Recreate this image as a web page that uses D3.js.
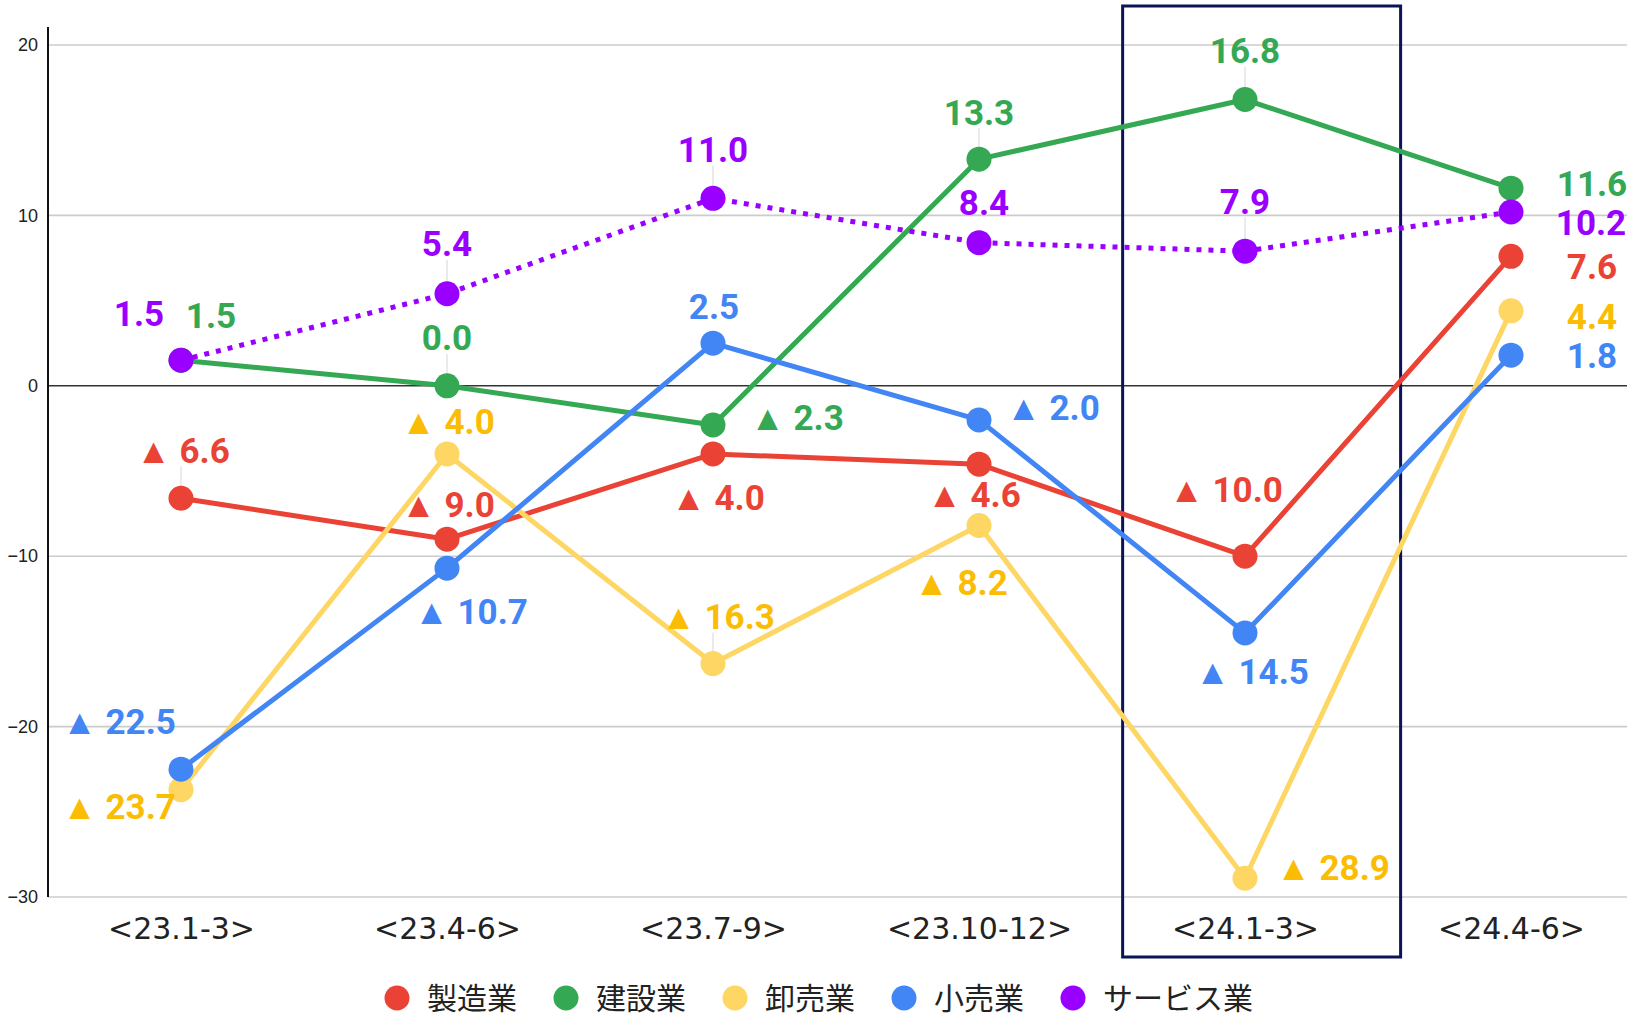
<!DOCTYPE html>
<html>
<head>
<meta charset="utf-8">
<script src="https://cdn.jsdelivr.net/npm/d3@7"></script>
<style>
  body { margin: 0; background: #fff; }
</style>
</head>
<body>
<div class="svg-wrap"></div>
<script>
const width = 1627;
const height = 1019;

// data
const quarters = ["<23.1-3>", "<23.4-6>", "<23.7-9>", "<23.10-12>", "<24.1-3>", "<24.4-6>"];
const seriesNames = ["製造業", "建設業", "卸売業", "小売業", "サービス業"];
const manufacturing = [-6.6, -9.0, -4.0, -4.6, -10.0, 7.6];
const construction = [1.5, 0.0, -2.3, 13.3, 16.8, 11.6];
const wholesale = [-23.7, -4.0, -16.3, -8.2, -28.9, 4.4];
const retail = [-22.5, -10.7, 2.5, -2.0, -14.5, 1.8];
const services = [1.5, 5.4, 11.0, 8.4, 7.9, 10.2];
const yTicks = [-30, -20, -10, 0, 10, 20];
const highlighted = "<24.1-3>";

// styles
const lineColors = ["#EA4335", "#34A853", "#FDD663", "#4285F4", "#9900FF"];
const labelColors = ["#EA4335", "#34A853", "#FBBC04", "#4285F4", "#9900FF"];

// label placement (offset of label centre from its point)
const labelOffsets = [
  [[2, -48], [1, -35], [5, 43], [-5, 30], [-19, -67], [81, 10]],
  [[30, -45], [0, -48], [84, -8], [0, -47], [0, -49], [81, -5]],
  [[-62, 17], [1, -33], [5, -47], [-18, 57], [88, -11], [81, 6]],
  [[-62, -48], [24, 43], [1, -37], [74, -12], [7, 39], [81, 0]],
  [[-42, -47], [0, -50], [0, -49], [5, -40], [0, -50], [80, 10]]
];

const allSeries = [manufacturing, construction, wholesale, retail, services];

let svg = d3.select(".svg-wrap")
  .append("svg")
  .attr("width", width)
  .attr("height", height)
  .style("background-color", "white");

let scaleX = d3.scalePoint().domain(quarters).range([48, 1644]).padding(0.5);
let scaleY = d3.scaleLinear().domain([-30, 20]).range([897, 45]);

// grid
svg.append("g")
  .selectAll("line")
  .data(yTicks)
  .enter()
  .append("line")
  .attr("x1", 48)
  .attr("x2", width)
  .attr("y1", d => scaleY(d))
  .attr("y2", d => scaleY(d))
  .style("stroke", d => d === 0 ? "#333" : "#ccc")
  .style("stroke-width", 1.6);

// y axis
let yAxis = d3.axisLeft(scaleY).tickValues(yTicks).tickSize(0).tickPadding(10);
let gy = svg.append("g")
  .attr("id", "y-axis")
  .attr("transform", "translate(48,0)")
  .call(yAxis);
gy.select(".domain").remove();
gy.selectAll("text")
  .style("font-family", "Arial, 'Liberation Sans', sans-serif")
  .style("font-size", "18px")
  .style("fill", "#222");
svg.append("line")
  .attr("x1", 48).attr("x2", 48)
  .attr("y1", 27).attr("y2", 897)
  .style("stroke", "#111")
  .style("stroke-width", 2);

// x axis
let xAxis = d3.axisBottom(scaleX).tickSize(0).tickPadding(21);
let gx = svg.append("g")
  .attr("id", "x-axis")
  .attr("transform", "translate(0,897)")
  .call(xAxis);
gx.select(".domain").remove();
gx.selectAll("text")
  .style("font-family", "'DejaVu Sans', sans-serif")
  .style("font-size", "30px")
  .style("fill", "#222");

// highlight box
let step = scaleX.step();
svg.append("rect")
  .attr("x", scaleX(highlighted) - step * 0.46)
  .attr("y", 6)
  .attr("width", step * 1.045)
  .attr("height", 951)
  .style("fill", "none")
  .style("stroke", "#0B1457")
  .style("stroke-width", 3);

// leader lines (only for labels sitting straight above their point)
allSeries.forEach(function (values, s) {
  let rows = values
    .map((v, i) => ({ v: v, i: i, off: labelOffsets[s][i] }))
    .filter(d => Math.abs(d.off[0]) < 10 && d.off[1] < -40);
  svg.append("g")
    .selectAll("line")
    .data(rows)
    .enter()
    .append("line")
    .attr("x1", d => scaleX(quarters[d.i]))
    .attr("x2", d => scaleX(quarters[d.i]))
    .attr("y1", d => scaleY(d.v))
    .attr("y2", d => scaleY(d.v) + d.off[1] + 16)
    .style("stroke", "#ddd")
    .style("stroke-width", 1.2);
});

// lines
let line = d3.line()
  .x((d, i) => scaleX(quarters[i]))
  .y(d => scaleY(d));

allSeries.forEach(function (values, s) {
  svg.append("path")
    .datum(values)
    .attr("d", line)
    .style("fill", "none")
    .style("stroke", lineColors[s])
    .style("stroke-width", 5)
    .style("stroke-dasharray", s === 4 ? "5,7" : null)
    .style("stroke-linejoin", "round");
});

// points
allSeries.forEach(function (values, s) {
  svg.append("g")
    .selectAll("circle")
    .data(values)
    .enter()
    .append("circle")
    .attr("cx", (d, i) => scaleX(quarters[i]))
    .attr("cy", d => scaleY(d))
    .attr("r", 12.5)
    .style("fill", lineColors[s]);
});

// data labels
function fmt(v) {
  return v < 0 ? "▲ " + Math.abs(v).toFixed(1) : v.toFixed(1);
}

allSeries.forEach(function (values, s) {
  svg.append("g")
    .selectAll("text")
    .data(values)
    .enter()
    .append("text")
    .attr("x", (d, i) => scaleX(quarters[i]) + labelOffsets[s][i][0])
    .attr("y", (d, i) => scaleY(d) + labelOffsets[s][i][1])
    .attr("dy", "0.36em")
    .attr("text-anchor", "middle")
    .text(d => fmt(d))
    .style("font-family", "Roboto, Arial, sans-serif")
    .style("font-weight", "bold")
    .style("font-size", "35px")
    .style("fill", labelColors[s]);
});

// legend
let legend = svg.append("g").attr("transform", "translate(0,998)");
let lx = 385;
seriesNames.forEach(function (name, s) {
  let item = legend.append("g").attr("transform", "translate(" + lx + ",0)");
  item.append("circle")
    .attr("cx", 12)
    .attr("cy", 0)
    .attr("r", 12.5)
    .style("fill", lineColors[s]);
  let t = item.append("text")
    .attr("x", 42)
    .attr("y", 0)
    .attr("dy", "0.36em")
    .text(name)
    .style("font-family", "'Noto Sans CJK JP', sans-serif")
    .style("font-size", "30px")
    .style("fill", "#222");
  lx += 42 + t.node().getComputedTextLength() + 37;
});
</script>
</body>
</html>
